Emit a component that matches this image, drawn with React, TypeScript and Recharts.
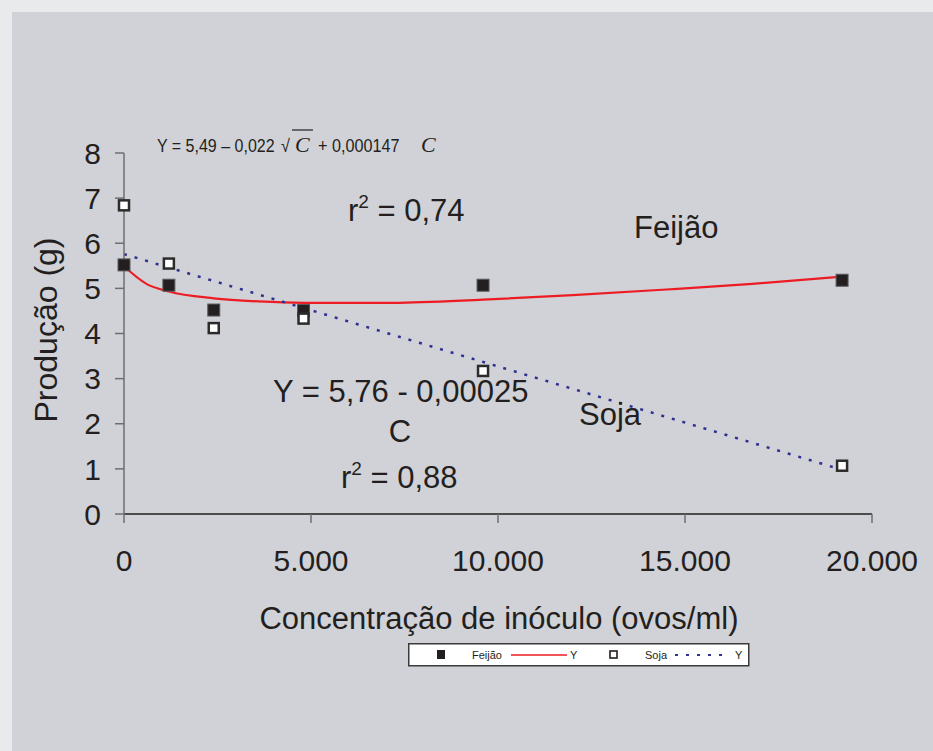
import { ComposedChart, Line, Scatter, XAxis, YAxis } from 'recharts';

// Concentração de inóculo (ovos/ml)
const doses = [0, 1200, 2400, 4800, 9600, 19200];
const feijao = [5.52, 5.07, 4.52, 4.51, 5.07, 5.18];
const soja = [6.84, 5.55, 4.12, 4.33, 3.17, 1.07];

// curva ajustada do feijão
const fitFeijaoC = [0, 600, 1200, 2400, 3600, 4800, 7200, 9600, 12000, 14400, 16800, 19200];
const fitFeijaoY = [5.49, 5.1, 4.93, 4.78, 4.71, 4.68, 4.68, 4.75, 4.85, 4.97, 5.1, 5.26];

// reta ajustada da soja
const fitSojaC = [0, 19200];
const fitSojaY = [5.76, 0.98];

const xTicks = [0, 5000, 10000, 15000, 20000];
const yTicks = [0, 1, 2, 3, 4, 5, 6, 7, 8];

const FONT = '"Liberation Sans", Arial, sans-serif';
const SERIF = '"Liberation Serif", serif';
const INK = '#231f20';
const AXIS_GRAY = '#6d6e71';
const RED = '#ed1c24';
const BLUE = '#2e3192';

const feijaoData = doses.map((x, i) => ({ x, y: feijao[i] }));
const sojaData = doses.map((x, i) => ({ x, y: soja[i] }));
const fitFeijaoData = fitFeijaoC.map((x, i) => ({ x, y: fitFeijaoY[i] }));
const fitSojaData = fitSojaC.map((x, i) => ({ x, y: fitSojaY[i] }));

const fmtThousands = (v: number) => (v === 0 ? '0' : v.toLocaleString('de-DE'));

const FilledSquare = (props: any) => {
  const { cx, cy } = props;
  return <rect x={cx - 6} y={cy - 6} width={12} height={12} fill={INK} stroke="#5a5a5c" strokeWidth={1} />;
};

const OpenSquare = (props: any) => {
  const { cx, cy } = props;
  return <rect x={cx - 5} y={cy - 5} width={10} height={10} fill="#ffffff" stroke="#2b2b2b" strokeWidth={2.5} />;
};

// legenda desenhada à parte, para não roubar altura da área do gráfico
const LegendBox = () => (
  <svg width={342} height={24} style={{ position: 'absolute', left: 408, top: 643, display: 'block' }}>
    <rect x={0.75} y={0.75} width={340} height={22} fill="#ffffff" stroke="#3a3a3a" strokeWidth={1.5} />
    <rect x={29} y={7} width={8} height={9} fill={INK} />
    <text x={64} y={16} fontSize={11} fontFamily={FONT} fill={INK}>Feijão</text>
    <line x1={103} y1={12} x2={159} y2={12} stroke={RED} strokeWidth={1.5} />
    <text x={162} y={16} fontSize={11} fontFamily={FONT} fill={INK}>Y</text>
    <rect x={202} y={8} width={7} height={7} fill="#ffffff" stroke={INK} strokeWidth={1.6} />
    <text x={237} y={16} fontSize={11} fontFamily={FONT} fill={INK}>Soja</text>
    <line x1={267} y1={12} x2={317} y2={12} stroke={BLUE} strokeWidth={2.2} strokeDasharray="3 8" />
    <text x={327} y={16} fontSize={11} fontFamily={FONT} fill={INK}>Y</text>
  </svg>
);

export default function App() {
  const big = { fontFamily: FONT, fill: INK, fontSize: 31 };
  return (
    <div style={{ position: 'absolute', left: 0, top: 0, width: 933, height: 751, background: '#e9eaec', overflow: 'hidden' }}>
      <div style={{ position: 'absolute', left: 12, top: 12, width: 921, height: 739, background: '#d1d2d7' }} />
      <div style={{ position: 'absolute', left: 0, top: 0 }}>
        <ComposedChart width={933} height={751} margin={{ top: 153, right: 61, bottom: 117, left: 0 }}>
          <XAxis
            type="number"
            dataKey="x"
            domain={[0, 20000]}
            ticks={xTicks}
            tickFormatter={fmtThousands}
            height={120}
            tickSize={9}
            tickMargin={27}
            axisLine={{ stroke: INK, strokeWidth: 1.5 }}
            tickLine={{ stroke: AXIS_GRAY, strokeWidth: 1.5 }}
            tick={{ fill: INK, fontSize: 30, fontFamily: FONT }}
            allowDuplicatedCategory={false}
          />
          <YAxis
            type="number"
            dataKey="y"
            domain={[0, 8]}
            ticks={yTicks}
            width={124}
            tickSize={9}
            tickMargin={14}
            axisLine={{ stroke: AXIS_GRAY, strokeWidth: 1.5 }}
            tickLine={{ stroke: AXIS_GRAY, strokeWidth: 1.5 }}
            tick={{ fill: INK, fontSize: 30, fontFamily: FONT }}
          />
          <Line
            data={fitFeijaoData}
            dataKey="y"
            type="monotone"
            stroke={RED}
            strokeWidth={2.2}
            dot={false}
            activeDot={false}
            isAnimationActive={false}
            name="Y"
          />
          <Line
            data={fitSojaData}
            dataKey="y"
            type="linear"
            stroke={BLUE}
            strokeWidth={2.5}
            strokeDasharray="3 8"
            dot={false}
            activeDot={false}
            isAnimationActive={false}
            name="Y "
          />
          <Scatter data={feijaoData} dataKey="y" shape={FilledSquare} isAnimationActive={false} name="Feijão" />
          <Scatter data={sojaData} dataKey="y" shape={OpenSquare} isAnimationActive={false} name="Soja" />
        </ComposedChart>
      </div>
      <LegendBox />
      <svg width={933} height={751} style={{ position: 'absolute', left: 0, top: 0, pointerEvents: 'none' }}>
        {/* títulos dos eixos */}
        <text x={499} y={629} textAnchor="middle" {...big}>Concentração de inóculo (ovos/ml)</text>
        <text x={57} y={330} textAnchor="middle" transform="rotate(-90 57 330)" {...big} fontSize={32}>Produção (g)</text>

        {/* equação do feijão: fonte estreitada por escala horizontal */}
        <line x1={292} y1={130} x2={313} y2={130} stroke={INK} strokeWidth={1.2} />
        <g fontFamily={FONT} fill={INK} fontSize={18}>
          <text transform="translate(157 152) scale(0.89 1)">Y = 5,49 – 0,022</text>
          <text transform="translate(281 152) scale(0.9 1)">√</text>
          <text x={295} y={152} fontSize={22} fontStyle="italic" fontFamily={SERIF}>C</text>
          <text transform="translate(318 152) scale(0.9 1)">+ 0,000147</text>
          <text x={421} y={152} fontSize={22} fontStyle="italic" fontFamily={SERIF}>C</text>
        </g>
        <text x={348} y={221} {...big}>r<tspan dy={-13} fontSize={19}>2</tspan><tspan dy={13}> = 0,74</tspan></text>
        <text x={634} y={238} {...big}>Feijão</text>

        {/* equação da soja */}
        <text x={273} y={402} {...big}>Y = 5,76 - 0,00025</text>
        <text x={400} y={442} textAnchor="middle" {...big}>C</text>
        <text x={341} y={488} {...big}>r<tspan dy={-13} fontSize={19}>2</tspan><tspan dy={13}> = 0,88</tspan></text>
        <text x={579} y={425} {...big}>Soja</text>
      </svg>
    </div>
  );
}
